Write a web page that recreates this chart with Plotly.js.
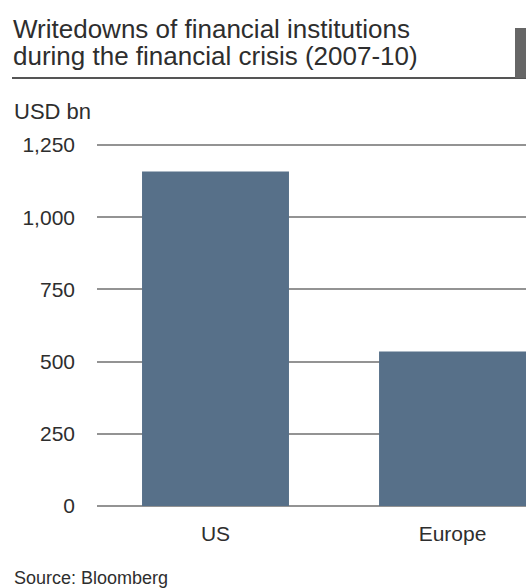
<!DOCTYPE html>
<html><head><meta charset="utf-8">
<script src="https://cdn.plot.ly/plotly-3.0.1.min.js"></script>
<style>html,body{margin:0;padding:0;background:#fff;}#chart{width:526px;height:588px;}</style>
</head><body><div id="chart"></div>
<script>
var categories = ["US", "Europe"];
var writedowns = [1158, 535];
var yTicks = [0, 250, 500, 750, 1000, 1250];
var titleLines = ["Writedowns of financial institutions", "during the financial crisis (2007-10)"];
var unitLabel = "USD bn";
var sourceLabel = "Source: Bloomberg";

var W = 526, H = 588;
var mL = 97, mR = 0, mT = 144, mB = 81;
var pw = W - mL - mR, ph = H - mT - mB;
function px(x){ return (x - mL) / pw; }
function py(y){ return (H - mB - y) / ph; }

var fontFam = "Liberation Sans, Arial, sans-serif";
var txt = "#2e2e2e";

var data = [{
  type: "bar",
  x: categories,
  y: writedowns,
  width: 0.62,
  marker: {color: "#577089", line: {width: 0}},
  hoverinfo: "x+y"
}];

var layout = {
  width: W, height: H,
  margin: {l: mL, r: mR, t: mT, b: mB, pad: 0},
  paper_bgcolor: "#ffffff", plot_bgcolor: "#ffffff",
  showlegend: false,
  font: {family: fontFam, color: txt},
  xaxis: {
    type: "category",
    range: [-0.5, 1.31],
    showgrid: false, zeroline: false, showline: false,
    ticks: "", ticklabelstandoff: 12,
    tickfont: {size: 21, color: txt}
  },
  yaxis: {
    range: [-3.5, 1253.5],
    tickvals: yTicks,
    tickformat: ",d",
    showgrid: true, gridcolor: "#939393", gridwidth: 2,
    zeroline: false, showline: false,
    ticks: "", ticklabelstandoff: 21,
    tickfont: {size: 21, color: txt}
  },
  shapes: [
    {type: "line", xref: "paper", yref: "paper", x0: px(12), x1: px(526), y0: py(78), y1: py(78),
     line: {color: "#555555", width: 2}},
    {type: "rect", xref: "paper", yref: "paper", x0: px(515), x1: px(526), y0: py(78), y1: py(28),
     fillcolor: "#666666", line: {width: 0}}
  ],
  annotations: [
    {text: titleLines[0], xref: "paper", yref: "paper", x: px(11), y: py(29), xanchor: "left", yanchor: "middle",
     showarrow: false, font: {size: 26, color: txt}},
    {text: titleLines[1], xref: "paper", yref: "paper", x: px(11), y: py(56), xanchor: "left", yanchor: "middle",
     showarrow: false, font: {size: 26, color: txt}},
    {text: unitLabel, xref: "paper", yref: "paper", x: px(12), y: py(111), xanchor: "left", yanchor: "middle",
     showarrow: false, font: {size: 22, color: txt}},
    {text: sourceLabel, xref: "paper", yref: "paper", x: px(12), y: py(578), xanchor: "left", yanchor: "middle",
     showarrow: false, font: {size: 18, color: txt}}
  ]
};

Plotly.newPlot("chart", data, layout, {displayModeBar: false, staticPlot: true});
</script></body></html>
